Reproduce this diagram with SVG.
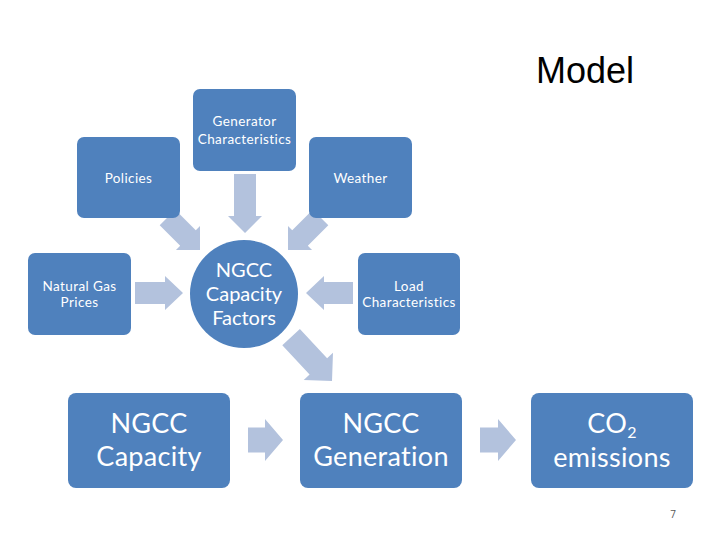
<svg xmlns="http://www.w3.org/2000/svg" width="720" height="540" viewBox="0 0 720 540">
<defs>
<style>
.box{fill:#4F81BD;}
.arr{fill:#B3C2DD;}
.t{fill:#FFFFFF;font-family:Lato,"Open Sans","Liberation Sans",sans-serif;text-anchor:middle;}
.s{font-size:13.5px;letter-spacing:0.4px;}
.m{font-size:20px;}
.l{font-size:27px;letter-spacing:0.3px;}
</style>
</defs>
<rect width="720" height="540" fill="#FFFFFF"/>
<g id="connectors">
<polygon class="arr" transform="translate(245,233) rotate(90)" points="-59,-11 -17,-11 -17,-17 0,0 -17,17 -17,11 -59,11"/>
<polygon class="arr" transform="translate(200,250) rotate(45)" points="-46,-11 -17,-11 -17,-17 0,0 -17,17 -17,11 -46,11"/>
<polygon class="arr" transform="translate(288,250) rotate(135)" points="-46,-11 -17,-11 -17,-17 0,0 -17,17 -17,11 -46,11"/>
<polygon class="arr" transform="translate(183,293)" points="-48,-11 -18,-11 -18,-17 0,0 -18,17 -18,11 -48,11"/>
<polygon class="arr" transform="translate(306,293) rotate(180)" points="-47,-11 -18,-11 -18,-17 0,0 -18,17 -18,11 -47,11"/>
<polygon class="arr" transform="translate(332,381) rotate(47)" points="-60,-12 -20,-12 -20,-20 0,0 -20,20 -20,12 -60,12"/>
<polygon class="arr" transform="translate(283,440)" points="-35,-12.5 -18,-12.5 -18,-21 0,0 -18,21 -18,12.5 -35,12.5"/>
<polygon class="arr" transform="translate(516,440)" points="-36,-12.5 -18,-12.5 -18,-21 0,0 -18,21 -18,12.5 -36,12.5"/>
</g>
<g id="title">
<text x="536" y="83" font-family="Liberation Sans, Arial, sans-serif" font-size="36" fill="#000000">Model</text>
</g>
<g id="generator">
<rect class="box" x="193" y="89" width="103" height="82" rx="7"/>
<text class="t s" x="244.5" y="126">Generator</text>
<text class="t s" x="244.5" y="144">Characteristics</text>
</g>
<g id="policies">
<rect class="box" x="77" y="137" width="103" height="81" rx="7"/>
<text class="t s" x="128.5" y="183">Policies</text>
</g>
<g id="weather">
<rect class="box" x="309" y="137" width="103" height="81" rx="7"/>
<text class="t s" x="360.5" y="183">Weather</text>
</g>
<g id="gasprices">
<rect class="box" x="28" y="253" width="103" height="82" rx="7"/>
<text class="t s" x="79.5" y="291">Natural Gas</text>
<text class="t s" x="79.5" y="307">Prices</text>
</g>
<g id="load">
<rect class="box" x="358" y="253" width="102" height="82" rx="7"/>
<text class="t s" x="409" y="291">Load</text>
<text class="t s" x="409" y="307">Characteristics</text>
</g>
<g id="capfactors">
<circle class="box" cx="244" cy="294" r="54"/>
<text class="t m" x="244" y="277">NGCC</text>
<text class="t m" x="244" y="301">Capacity</text>
<text class="t m" x="244" y="325">Factors</text>
</g>
<g id="capacity">
<rect class="box" x="68" y="393" width="162" height="95" rx="8"/>
<text class="t l" x="149" y="433">NGCC</text>
<text class="t l" x="149" y="466">Capacity</text>
</g>
<g id="generation">
<rect class="box" x="300" y="393" width="162" height="95" rx="8"/>
<text class="t l" x="381" y="433">NGCC</text>
<text class="t l" x="381" y="466">Generation</text>
</g>
<g id="emissions">
<rect class="box" x="531" y="393" width="162" height="95" rx="8"/>
<text class="t l" x="612" y="433">CO<tspan font-size="16" dy="5">2</tspan></text>
<text class="t l" x="612" y="467">emissions</text>
</g>
<g id="page">
<text x="673" y="518" font-family="Open Sans, Liberation Sans, sans-serif" font-size="10" fill="#595959" text-anchor="middle">7</text>
</g>
</svg>
